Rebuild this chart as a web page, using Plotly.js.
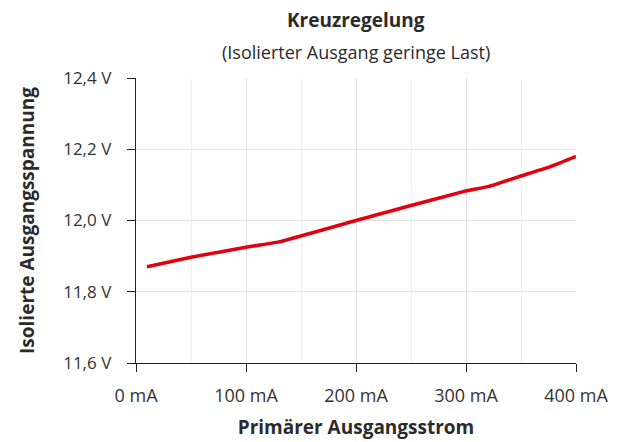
<!DOCTYPE html>
<html><head><meta charset="utf-8">
<script src="https://cdn.plot.ly/plotly-3.0.1.min.js"></script>
<style>body{margin:0}#c{width:619px;height:442px}</style>
</head><body><div id="c"></div>
<script>
const currentMA = [10, 50, 100, 130, 200, 250, 300, 320, 350, 380, 400];
const voltageV = [11.87, 11.897, 11.925, 11.94, 12.0, 12.042, 12.083, 12.095, 12.125, 12.155, 12.18];
const xTickVals = [0, 100, 200, 300, 400];
const xTickText = ['0 mA', '100 mA', '200 mA', '300 mA', '400 mA'];
const yTickVals = [11.6, 11.8, 12.0, 12.2, 12.4];
const yTickText = ['11,6 V', '11,8 V', '12,0 V', '12,2 V', '12,4 V'];

const fnt = 'Open Sans, Noto Sans, sans-serif';
Plotly.newPlot('c', [{
  x: currentMA, y: voltageV, type: 'scatter', mode: 'lines',
  line: {color: '#e3000f', width: 3.5, shape: 'spline', smoothing: 0.3},
  hoverinfo: 'skip'
}], {
  width: 619, height: 442,
  margin: {l: 136, r: 43, t: 78, b: 79},
  paper_bgcolor: '#fff', plot_bgcolor: '#fff',
  showlegend: false,
  font: {family: fnt, color: '#2b2b2b', size: 15},
  xaxis: {
    range: [0, 400], tickvals: xTickVals, ticktext: xTickText,
    ticks: 'outside', ticklen: 8, tickcolor: '#222', tickwidth: 1,
    showline: true, linecolor: '#222', linewidth: 1.3,
    showgrid: true, gridcolor: '#e3e3e3', gridwidth: 1,
    minor: {dtick: 50, showgrid: true, gridcolor: '#efefef', gridwidth: 1},
    zeroline: false, fixedrange: true, ticklabelstandoff: 8,
    tickfont: {size: 18, family: fnt, color: '#333'},
    title: {text: '<b>Primärer Ausgangsstrom</b>', font: {size: 19, family: fnt, color: '#2b2b2b'}, standoff: 14}
  },
  yaxis: {
    range: [11.6, 12.4], tickvals: yTickVals, ticktext: yTickText,
    ticks: 'outside', ticklen: 8, tickcolor: '#222', tickwidth: 1,
    showline: true, linecolor: '#222', linewidth: 1.3,
    showgrid: true, gridcolor: '#e3e3e3', gridwidth: 1,
    zeroline: false, fixedrange: true, ticklabelstandoff: 12,
    tickfont: {size: 17, family: fnt, color: '#333'},
    title: {text: '<b>Isolierte Ausgangsspannung</b>', font: {size: 19, family: fnt, color: '#2b2b2b'}, standoff: 23}
  },
  annotations: [
    {text: '<b>Kreuzregelung</b>', xref: 'paper', yref: 'paper', x: 0.5, y: 1, yshift: 58, showarrow: false, font: {size: 19, family: fnt, color: '#2b2b2b'}, xanchor: 'center', yanchor: 'middle'},
    {text: '(Isolierter Ausgang geringe Last)', xref: 'paper', yref: 'paper', x: 0.5, y: 1, yshift: 26, showarrow: false, font: {size: 18, family: fnt, color: '#2b2b2b'}, xanchor: 'center', yanchor: 'middle'}
  ]
}, {displayModeBar: false, staticPlot: true});
</script></body></html>
